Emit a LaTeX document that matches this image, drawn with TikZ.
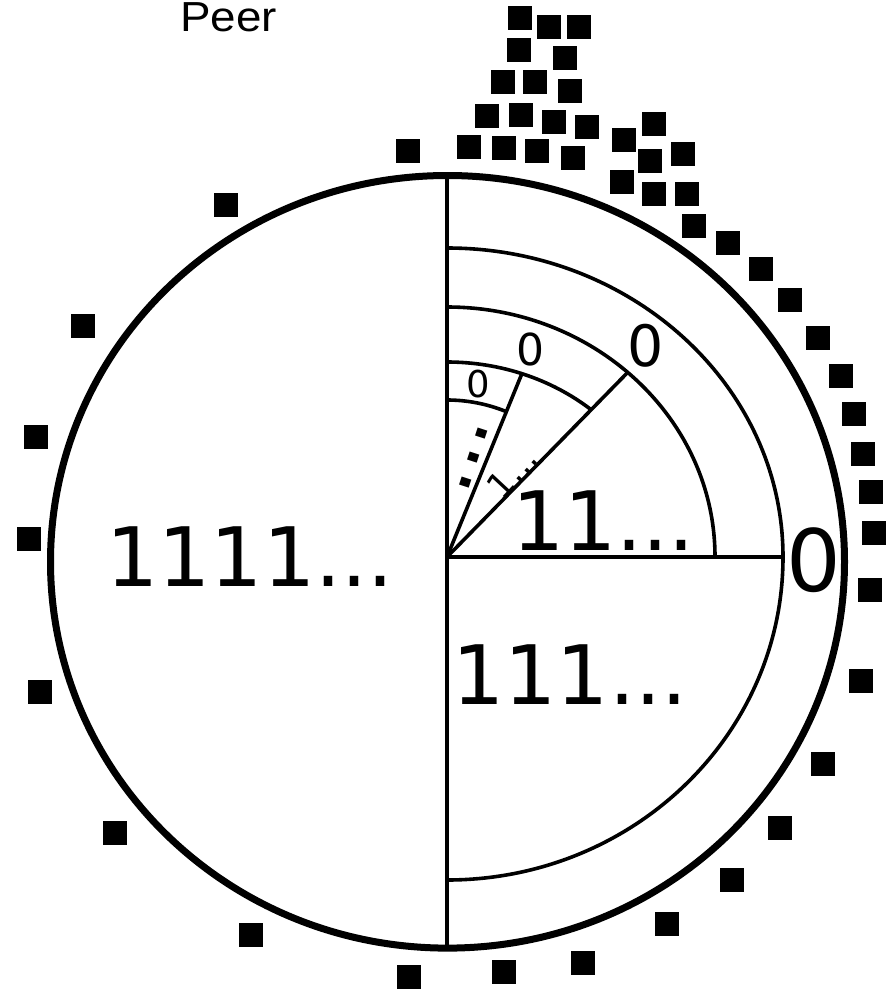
\documentclass[tikz,border=0pt]{standalone}
\usepackage{fontspec}
\usetikzlibrary{calc}
\setmainfont{DejaVu Sans}
\newfontfamily\peerfont{Liberation Sans}
\newcommand{\setfs}[1]{\fontsize{#1}{#1}\selectfont}
\begin{document}
\begin{tikzpicture}[x=1pt,y=-1pt,
  inner line/.style={line width=3.6pt},
  rim/.style={line width=7pt},
  peer/.style={fill=black, inner sep=0pt, minimum size=24.5pt, draw=none, rectangle},
  lbl/.style={inner sep=0pt, anchor=base}]
\useasboundingbox (0,0) rectangle (895,990);
% geometry
\coordinate (O) at (447,557);
\coordinate (C) at (447.5,561.8);
\coordinate (top) at (447,175.5);
\coordinate (bot) at (447,948);
\coordinate (A1) at (447,248);
\coordinate (A2) at (447,307);
\coordinate (A3) at (447,362);
\coordinate (A4) at (447,400);
\coordinate (H) at (783,557);
\coordinate (L1) at ($(O)+(-47.6:268 and 250)$);
\coordinate (L2) at ($(O)+(-70.1:220 and 195)$);
% outer rim
\draw[rim] (C) ellipse [x radius=397, y radius=386.3];
% inner lines
\draw[inner line] (top) -- (bot);
\draw[inner line] (O) -- (H);
\draw[inner line] (A1) arc[start angle=-90, end angle=0, x radius=336, y radius=309]
                       arc[start angle=0, end angle=90, x radius=336, y radius=323];
\draw[inner line] (A2) arc[start angle=-90, end angle=0, x radius=268, y radius=250];
\draw[inner line] (A3) arc[start angle=-90, end angle=-49.1, x radius=220, y radius=195];
\draw[inner line] (A4) arc[start angle=-90, end angle=-67.8, radius=157];
\draw[inner line] (O) -- (L1);
\draw[inner line] (O) -- (L2);
% labels
\node[lbl, font=\setfs{82}] (l4) at (250,586) {1111...};
\node[lbl, font=\setfs{82}] (l2) at (603.5,550) {11...};
\node[lbl, font=\setfs{82}] (l3) at (570,704) {111...};
\node[lbl, font=\setfs{86}] (z1) at (814,591) {0};
\node[lbl, font=\setfs{57}] (z2) at (646,366.5) {0};
\node[lbl, font=\setfs{44}] (z3) at (530,365) {0};
\node[lbl, font=\setfs{37}] (z4) at (478,397) {0};
\node[inner sep=0pt, rotate=47, font=\setfs{35}] (r1) at (512,472) {1...};
\node[inner sep=0pt, rotate=72, font=\setfs{82}] (dots) at (473.5,458) {...};
\node[lbl, font=\peerfont\setfs{42}, xscale=1.09] (peer) at (228.5,31.5) {Peer};
% peers
\foreach \px/\py in {520/18,549/27,579/27,519/50,565/58,503/82,535/82,570/91,
  487/116,521/115,554/122,587/127,408/151,469/147,504/148,537/151,573/158,
  654/124,624/140,650/161,683/154,622/182,654/194,687/194,694/226,728/243,
  761/269,790/300,818/338,841/376,854/414,863/454,871/492,874/533,870/590,
  861/681,823/764,780/828,732/880,667/924,583/963,504/972,409/977,251/935,
  115/833,40/692,29/539,36/437,83/326,226/205}
  \node[peer] at (\px,\py) {};
\end{tikzpicture}
\end{document}
